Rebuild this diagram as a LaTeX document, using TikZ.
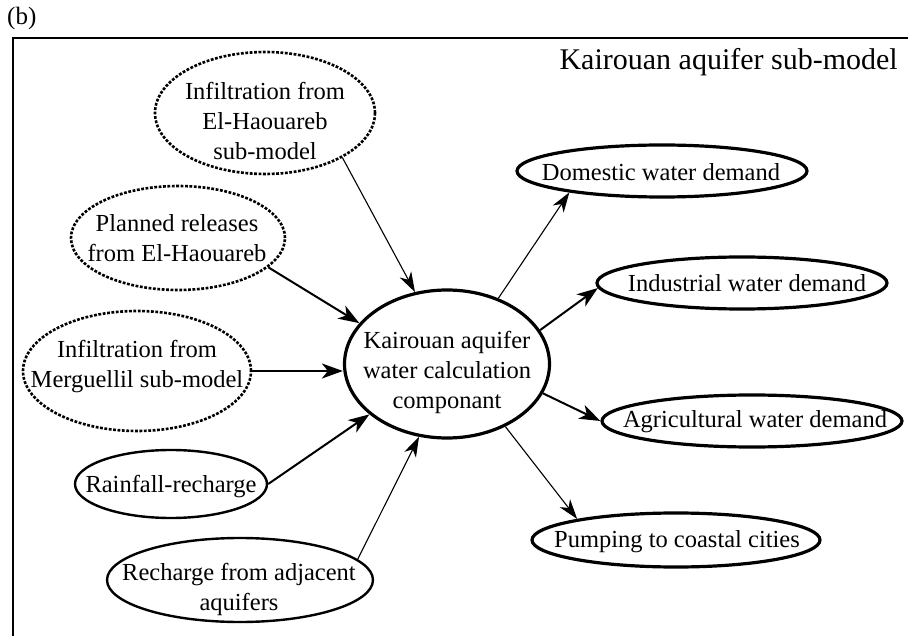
\documentclass[tikz,border=0pt]{standalone}
\usepackage{fontspec}
\setmainfont{Liberation Serif}
\usetikzlibrary{arrows.meta,shapes.geometric}

\begin{document}
\begin{tikzpicture}[x=1pt,y=-1pt,
  txt/.style={font=\fontsize{24.5}{30}\selectfont, align=center, inner sep=0pt},
  oval/.style={ellipse, draw, inner sep=0pt, line width=3.2pt},
  lightoval/.style={ellipse, draw, inner sep=0pt, line width=2.4pt},
  dotoval/.style={ellipse, draw, inner sep=0pt, line width=2.6pt,
    dash pattern=on 2.8pt off 1.6pt},
  flow/.style={-{Stealth[length=21pt,width=15pt,inset=6pt]}, line width=2pt},
  thinflow/.style={-{Stealth[length=20pt,width=13pt,inset=6pt]}, line width=1.1pt}
]
\useasboundingbox (0,0) rectangle (908,636);

% panel label and frame
\node[anchor=base west, font=\fontsize{25}{30}\selectfont, inner sep=0pt] (panel) at (7,25) {(b)};
\draw[line width=2.8pt] (13,650) -- (13,38) -- (920,38);
\node[anchor=base east, font=\fontsize{30}{36}\selectfont, inner sep=0pt] (title) at (898,70) {Kairouan aquifer sub-model};

% central component
\node[oval, minimum width=205pt, minimum height=148pt] (C) at (447,364) {};
\node[txt] (Ct) at (447,372) {Kairouan aquifer\\water calculation\\componant};

% inputs
\node[dotoval, minimum width=220pt, minimum height=122pt] (IE) at (265,113) {};
\node[txt] (IEt) at (265,121) {Infiltration from\\El-Haouareb\\sub-model};

\node[dotoval, minimum width=214pt, minimum height=104pt] (PR) at (178,238) {};
\node[txt] (PRt) at (177,238) {Planned releases\\from El-Haouareb};

\node[dotoval, minimum width=228pt, minimum height=120pt] (M) at (137,371) {};
\node[txt] (Mt) at (137,367) {Infiltration from\\Merguellil sub-model};

\node[lightoval, minimum width=192pt, minimum height=68pt] (R) at (171,484) {};
\node[txt] (Rt) at (171,487) {Rainfall-recharge};

\node[lightoval, minimum width=266pt, minimum height=84pt] (RA) at (240,580) {};
\node[txt] (RAt) at (239,589) {Recharge from adjacent\\aquifers};

% outputs
\node[oval, minimum width=290pt, minimum height=52pt] (D) at (662,171) {};
\node[txt] (Dt) at (661,172) {Domestic water demand};

\node[oval, minimum width=290pt, minimum height=52pt] (I) at (742,283) {};
\node[txt] (It) at (747,283) {Industrial water demand};

\node[oval, minimum width=300pt, minimum height=52pt] (A) at (752,421) {};
\node[txt] (At) at (755,422) {Agricultural water demand};

\node[oval, minimum width=288pt, minimum height=54pt] (P) at (676,540) {};
\node[txt] (Pt) at (677,542) {Pumping to coastal cities};

% flows into the component
\draw[thinflow] (IE.-30.4) -- (C.114);
\draw[flow] (PR.-18.8) -- (C.155.4);
\draw[flow] (M.east) -- (M.east -| C.west);
\draw[flow] (R.east) -- (C.213.5);
\draw[thinflow] (RA.10.4) -- (C.249.1);

% flows out of the component
\draw[thinflow] (C.52.7) -- (D.193.7);
\draw[flow] (C.20.1) -- (I.182);
\draw[flow] (C.-17.2) -- (A.west);
\draw[thinflow] (C.-47.6) -- (P.168.5);
\end{tikzpicture}
\end{document}
